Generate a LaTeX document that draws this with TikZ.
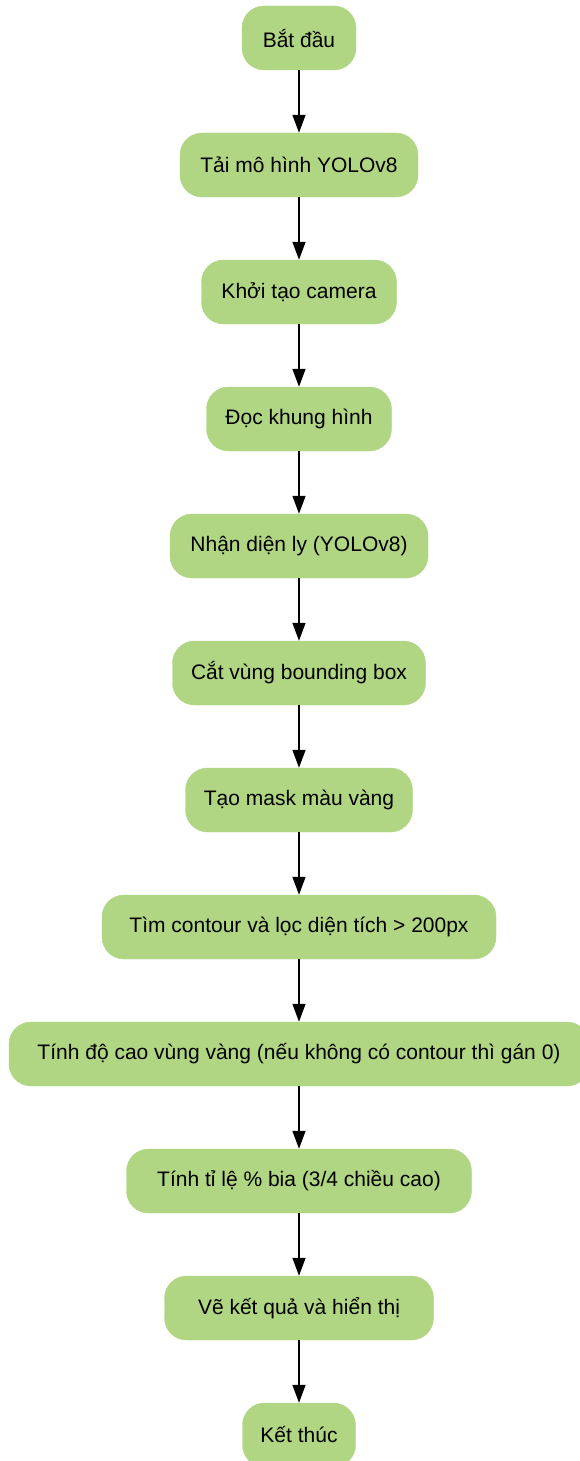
\documentclass[tikz,border=0pt]{standalone}
\usepackage{fontspec}
\setmainfont{Liberation Sans}
\usetikzlibrary{arrows.meta}
\definecolor{boxgreen}{HTML}{B0D684}
\tikzset{
  stepbox/.style={draw=boxgreen, fill=boxgreen, rounded corners=22pt,
    minimum height=64pt, inner xsep=10pt, inner ysep=0pt,
    font=\fontsize{21}{25}\selectfont, text=black},
  flow/.style={line width=1.5pt, -{Triangle[length=18pt,width=13pt]}}
}
\begin{document}
\begin{tikzpicture}[x=1pt,y=-1pt]
\useasboundingbox (0,0) rectangle (579,1461);
\node[stepbox, minimum width=114pt] (n1) at (299,38) {Bắt đầu};
\node[stepbox, minimum width=238pt] (n2) at (299,165) {Tải mô hình YOLOv8};
\node[stepbox, minimum width=195pt] (n3) at (299,292) {Khởi tạo camera};
\node[stepbox, minimum width=185pt] (n4) at (299,419) {Đọc khung hình};
\node[stepbox, minimum width=258pt] (n5) at (299,546) {Nhận diện ly (YOLOv8)};
\node[stepbox, minimum width=253pt] (n6) at (299,673) {Cắt vùng bounding box};
\node[stepbox, minimum width=227pt] (n7) at (299,800) {Tạo mask màu vàng};
\node[stepbox, minimum width=394pt] (n8) at (299,927) {Tìm contour và lọc diện tích > 200px};
\node[stepbox, minimum width=580pt] (n9) at (299,1054) {Tính độ cao vùng vàng (nếu không có contour thì gán 0)};
\node[stepbox, minimum width=345pt] (n10) at (299,1181) {Tính tỉ lệ \% bia (3/4 chiều cao)};
\node[stepbox, minimum width=269pt] (n11) at (299,1308) {Vẽ kết quả và hiển thị};
\node[stepbox, minimum width=113pt] (n12) at (299,1435) {Kết thúc};
\foreach \a/\b in {n1/n2,n2/n3,n3/n4,n4/n5,n5/n6,n6/n7,n7/n8,n8/n9,n9/n10,n10/n11,n11/n12}
  \draw[flow] (\a) -- (\b);
\end{tikzpicture}
\end{document}
